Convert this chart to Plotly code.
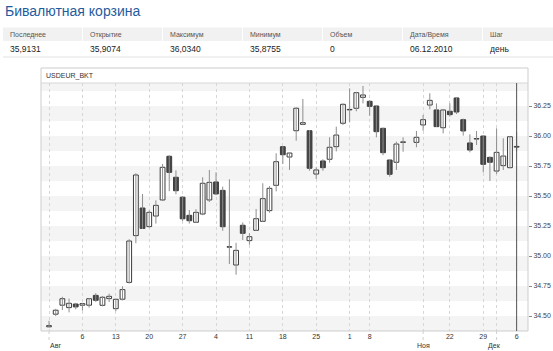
import plotly.graph_objects as go

# ---------------- data ----------------
title_text = "Бивалютная корзина"
table_headers = ["Последнее", "Открытие", "Максимум", "Минимум", "Объем", "Дата/Время", "Шаг"]
table_values = ["35,9131", "35,9074", "36,0340", "35,8755", "0", "06.12.2010", "день"]
series_name = "USDEUR_BKT"

dates = [
    "2010-08-30", "2010-08-31",
    "2010-09-01", "2010-09-02", "2010-09-03", "2010-09-06", "2010-09-07", "2010-09-08", "2010-09-09",
    "2010-09-10", "2010-09-13", "2010-09-14", "2010-09-15", "2010-09-16", "2010-09-17", "2010-09-20",
    "2010-09-21", "2010-09-22", "2010-09-23", "2010-09-24", "2010-09-27", "2010-09-28", "2010-09-29",
    "2010-09-30",
    "2010-10-01", "2010-10-04", "2010-10-05", "2010-10-06", "2010-10-07", "2010-10-08", "2010-10-11",
    "2010-10-12", "2010-10-13", "2010-10-14", "2010-10-15", "2010-10-18", "2010-10-19", "2010-10-20",
    "2010-10-21", "2010-10-22", "2010-10-25", "2010-10-26", "2010-10-27", "2010-10-28", "2010-10-29",
    "2010-11-01", "2010-11-02", "2010-11-03", "2010-11-08", "2010-11-09", "2010-11-10", "2010-11-11",
    "2010-11-12", "2010-11-13", "2010-11-14", "2010-11-15", "2010-11-16", "2010-11-17", "2010-11-18",
    "2010-11-19", "2010-11-22", "2010-11-23", "2010-11-24", "2010-11-25", "2010-11-26", "2010-11-29",
    "2010-11-30",
    "2010-12-01", "2010-12-02", "2010-12-03", "2010-12-06",
]

opens = [34.410, 34.515, 34.590, 34.570, 34.600, 34.590, 34.590, 34.672, 34.589, 34.645,
         34.561, 34.640, 34.780, 35.170, 35.400, 35.245, 35.333, 35.467, 35.831, 35.656,
         35.490, 35.339, 35.281, 35.350, 35.467, 35.617, 35.547, 35.077, 34.925, 35.256,
         35.128, 35.214, 35.289, 35.378, 35.589, 35.911, 35.825, 36.044, 36.097, 36.044,
         35.683, 35.792, 35.806, 35.911, 36.106, 36.221, 36.231, 36.322, 36.289, 36.250,
         36.064, 35.800, 35.781, 35.947, None, 35.947, 36.092, 36.258, 36.217, 36.069,
         36.206, 36.317, 36.136, 35.942, 35.978, 36.000, 35.822, 35.708, 35.753, 35.736,
         35.9074]
highs = [34.460, 34.560, 34.660, 34.645, 34.610, 34.610, 34.650, 34.690, 34.667, 34.686,
         34.645, 34.747, 35.140, 35.690, 35.517, 35.380, 35.464, 35.767, 35.840, 35.714,
         35.500, 35.383, 35.390, 35.656, 35.717, 35.697, 35.578, 35.639, 35.110, 35.280,
         35.190, 35.392, 35.606, 35.583, 35.856, 35.915, 35.860, 36.240, 36.308, 36.050,
         35.739, 35.806, 35.989, 36.078, 36.272, 36.397, 36.369, 36.417, 36.300, 36.253,
         36.070, 35.803, 35.953, 35.989, None, 36.042, 36.175, 36.356, 36.272, 36.225,
         36.272, 36.320, 36.145, 36.014, 36.042, 36.000, 35.830, 36.064, 35.981, 36.000,
         36.0340]
lows = [34.405, 34.500, 34.550, 34.530, 34.556, 34.545, 34.570, 34.617, 34.580, 34.617,
        34.540, 34.630, 34.770, 35.106, 35.225, 35.235, 35.270, 35.458, 35.540, 35.514,
        35.290, 35.270, 35.275, 35.340, 35.450, 35.506, 35.210, 34.933, 34.844, 35.133,
        35.094, 35.210, 35.285, 35.361, 35.539, 35.767, 35.717, 35.961, 36.090, 35.711,
        35.642, 35.710, 35.778, 35.872, 36.092, 36.114, 36.206, 36.272, 36.169, 35.989,
        35.840, 35.661, 35.717, 35.869, None, 35.906, 36.044, 36.222, 36.075, 36.022,
        36.161, 36.183, 36.003, 35.864, 35.925, 35.697, 35.625, 35.683, 35.717, 35.730,
        35.8755]
closes = [34.420, 34.548, 34.644, 34.606, 34.576, 34.603, 34.644, 34.631, 34.656, 34.664,
          34.639, 34.720, 35.125, 35.675, 35.230, 35.364, 35.422, 35.739, 35.697, 35.544,
          35.310, 35.294, 35.364, 35.606, 35.614, 35.517, 35.244, 35.074, 35.047, 35.189,
          35.161, 35.311, 35.478, 35.564, 35.786, 35.844, 35.858, 36.231, 36.111, 35.731,
          35.717, 35.736, 35.906, 36.008, 36.264, 36.218, 36.361, 36.342, 36.247, 36.036,
          35.861, 35.681, 35.933, 35.951, None, 35.989, 36.136, 36.297, 36.078, 36.217,
          36.178, 36.200, 36.042, 35.883, 35.975, 35.764, 35.781, 35.864, 35.833, 35.994,
          35.9131]

tick_dates = ["2010-08-30", "2010-09-06", "2010-09-13", "2010-09-20", "2010-09-27", "2010-10-04",
              "2010-10-11", "2010-10-18", "2010-10-25", "2010-11-01", "2010-11-08", "2010-11-16",
              "2010-11-22", "2010-11-29", "2010-12-01", "2010-12-06"]
tick_labels = ["", "6", "13", "20", "27", "4", "11", "18", "25", "1", "8", "", "22", "29", "", "6"]
month_dates = ["2010-08-30", "2010-11-16", "2010-12-01"]
month_labels = ["Авг", "Ноя", "Дек"]
month_shift = [6, 0, -2]

y_ticks = [34.50, 34.75, 35.00, 35.25, 35.50, 35.75, 36.00, 36.25]
y_range = [34.375, 36.4417]

# ---------------- geometry helpers ----------------
W, H = 553, 351
L, R, T, B = 41, 25, 83, 20
PW, PH = W - L - R, H - T - B


def px(x):
    return (x - L) / PW


def py(y):
    return (H - B - y) / PH


FONT = "Liberation Sans, Arial, sans-serif"

# ---------------- traces ----------------
wx, wy = [], []
for d, lo, hi in zip(dates, lows, highs):
    if lo is None:
        continue
    wx += [d, d, None]
    wy += [lo, hi, None]

wicks = go.Scatter(x=wx, y=wy, mode="lines", line=dict(color="#8e8e8e", width=1),
                   hoverinfo="skip", showlegend=False)

base = [None if o is None else min(o, c) for o, c in zip(opens, closes)]
height = [None if o is None else abs(c - o) for o, c in zip(opens, closes)]
colors = ["#ffffff" if (o is None or c >= o) else "#454545" for o, c in zip(opens, closes)]

bodies = go.Bar(x=dates, y=height, base=base, width=0.72,
                marker=dict(color=colors, line=dict(color="#3c3c3c", width=1)),
                hoverinfo="skip", showlegend=False)

fig = go.Figure([wicks, bodies])

# ---------------- shapes ----------------
shapes = []
k = 0
while y_range[0] + 0.25 * k < y_range[1]:
    y0 = y_range[0] + 0.25 * k
    y1 = min(y0 + 0.125, y_range[1])
    shapes.append(dict(type="rect", xref="paper", yref="y", x0=0, x1=1, y0=y0, y1=y1,
                       fillcolor="#f4f4f4", line=dict(width=0), layer="below"))
    k += 1

# frame with header row
shapes.append(dict(type="rect", xref="paper", yref="paper", x0=0, x1=1, y0=0, y1=py(68),
                   line=dict(color="#cdcdcd", width=1), fillcolor="rgba(0,0,0,0)", layer="above"))
shapes.append(dict(type="line", xref="paper", yref="paper", x0=0, x1=1, y0=1, y1=1,
                   line=dict(color="#d6d6d6", width=1), layer="above"))

# month tick extensions
for d in month_dates:
    shapes.append(dict(type="line", xref="x", yref="paper", x0=d, x1=d, y0=0, y1=py(340),
                       line=dict(color="#cfcfcf", width=1, dash="dot"), layer="above"))

# crosshair on last bar
shapes.append(dict(type="line", xref="x", yref="paper", x0=dates[-1], x1=dates[-1], y0=0, y1=1,
                   line=dict(color="#555555", width=1), layer="above"))

# top table
for i in range(len(table_headers)):
    x0 = 3 + 80 * i
    x1 = min(x0 + 79, W)
    if i == len(table_headers) - 1:
        x1 = W
    shapes.append(dict(type="rect", xref="paper", yref="paper", x0=px(x0), x1=px(x1),
                       y0=py(41), y1=py(27.5), fillcolor="#f1f1f1", line=dict(width=0)))
shapes.append(dict(type="line", xref="paper", yref="paper", x0=px(3), x1=px(W), y0=py(57), y1=py(57),
                   line=dict(color="#e2e2e2", width=1)))

# ---------------- annotations ----------------
ann = []
ann.append(dict(text=title_text, xref="paper", yref="paper", x=px(3), y=py(10.5),
                xanchor="left", yanchor="middle", showarrow=False,
                font=dict(family=FONT, size=14, color="#1f5c9e")))
for i, (h, v) in enumerate(zip(table_headers, table_values)):
    ann.append(dict(text=h, xref="paper", yref="paper", x=px(8 + 80 * i), y=py(34.5),
                    xanchor="left", yanchor="middle", showarrow=False,
                    font=dict(family=FONT, size=7, color="#555555")))
    ann.append(dict(text=v, xref="paper", yref="paper", x=px(8 + 80 * i), y=py(49),
                    xanchor="left", yanchor="middle", showarrow=False,
                    font=dict(family=FONT, size=8.5, color="#222222")))
ann.append(dict(text=series_name, xref="paper", yref="paper", x=px(44), y=py(75.5),
                xanchor="left", yanchor="middle", showarrow=False,
                font=dict(family=FONT, size=7, color="#333333")))
for d, m, s in zip(month_dates, month_labels, month_shift):
    ann.append(dict(text=m, xref="x", yref="paper", x=d, y=py(345.5), xshift=s,
                    xanchor="center", yanchor="middle", showarrow=False,
                    font=dict(family=FONT, size=7, color="#333333")))

fig.update_layout(
    template="none",
    width=W, height=H,
    margin=dict(l=L, r=R, t=T, b=B, pad=0),
    paper_bgcolor="white", plot_bgcolor="white",
    font=dict(family=FONT, size=7, color="#333333"),
    showlegend=False, hovermode=False,
    shapes=shapes, annotations=ann,
    xaxis=dict(type="category", categoryorder="array", categoryarray=dates, automargin=False,
               range=[-1.2, 71.7], tickmode="array", tickvals=tick_dates, ticktext=tick_labels,
               showgrid=True, gridcolor="#d6d6d6", griddash="dot", gridwidth=1,
               ticks="", showline=False, zeroline=False,
               tickfont=dict(family=FONT, size=7, color="#333333")),
    yaxis=dict(side="right", range=y_range, tickmode="array", tickvals=y_ticks, automargin=False,
               ticktext=[f"{v:.2f}" for v in y_ticks],
               showgrid=False, zeroline=False, showline=False,
               ticks="outside", ticklen=3, tickcolor="#888888",
               tickfont=dict(family=FONT, size=7, color="#444444")),
)

fig.write_html("out.html")
